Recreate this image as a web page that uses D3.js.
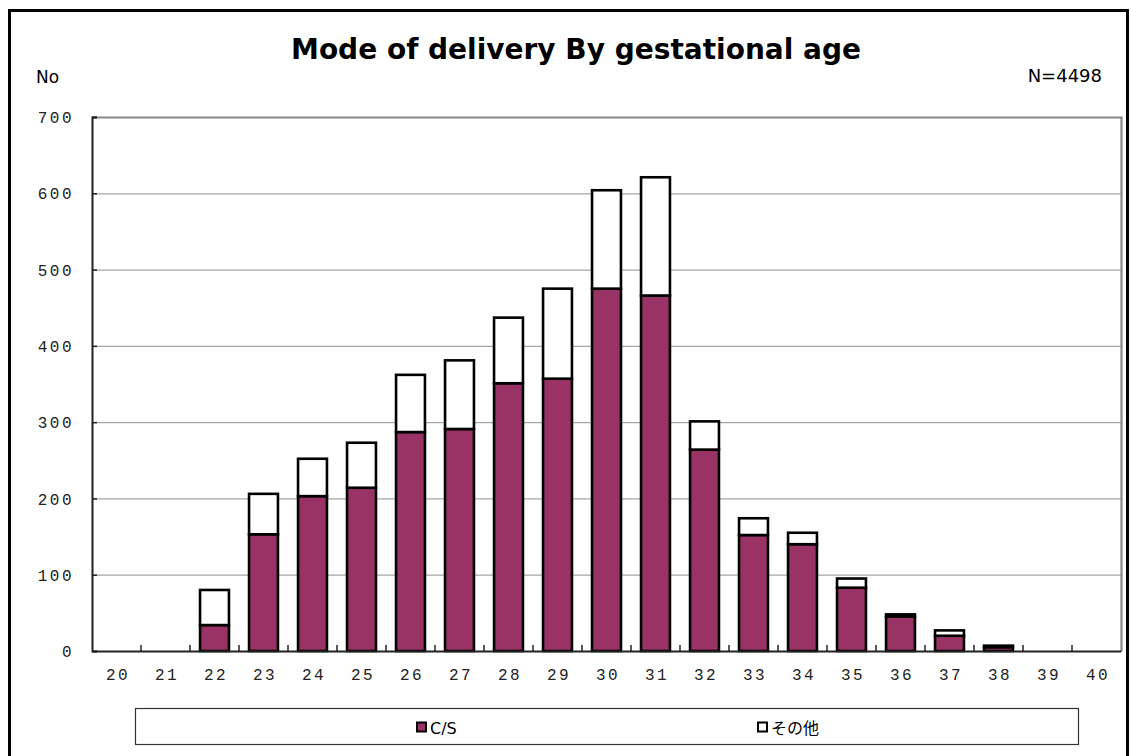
<!DOCTYPE html>
<html>
<head>
<meta charset="utf-8">
<script src="https://cdn.jsdelivr.net/npm/d3@7"></script>
<style>
  body { margin: 0; background: #fff; }
  .tick-label { font-family: "Liberation Mono", "DejaVu Sans Mono", monospace; font-size: 16px; letter-spacing: 2.5px; fill: #222; }
</style>
</head>
<body>
<div id="chart"></div>
<script>
// gestational age (weeks)
var weeks = ["20","21","22","23","24","25","26","27","28","29","30","31","32","33","34","35","36","37","38","39","40"];
// C/S count per week
var csValues = [0,0,34,153,203,214,287,291,351,357,475,466,264,152,140,83,45,20,5,0,0];
// その他 count per week
var otherValues = [0,0,46,53,49,59,75,90,86,118,129,155,37,22,15,12,3,7,2,0,0];
var seriesNames = ["C/S", "その他"];
var seriesColors = ["#993366", "#ffffff"];
var yTicks = [0,100,200,300,400,500,600,700];

var width = 1131, height = 756;
var svg = d3.select("#chart").append("svg")
    .attr("width", width)
    .attr("height", height);

// outer frame
svg.append("rect")
    .attr("x", 9.5).attr("y", 10.5)
    .attr("width", 1118).attr("height", 770)
    .attr("fill", "#fff").attr("stroke", "#000").attr("stroke-width", 3);

var plot = {left: 92, top: 117, right: 1121, bottom: 651};

var x = d3.scaleBand()
    .domain(weeks)
    .range([plot.left, plot.right])
    .paddingInner(0.41)
    .paddingOuter(0.205);

var y = d3.scaleLinear()
    .domain([0, 700])
    .range([plot.bottom, plot.top]);

// gridlines
svg.append("g").selectAll("line")
    .data(yTicks.filter(function(d) { return d > 0 && d < 700; }))
    .enter().append("line")
    .attr("x1", plot.left).attr("x2", plot.right)
    .attr("y1", function(d) { return y(d) + 0.5; })
    .attr("y2", function(d) { return y(d) + 0.5; })
    .attr("stroke", "#a6a6a6").attr("stroke-width", 1.2);

// top and right border of the plot
svg.append("path")
    .attr("d", "M" + plot.left + "," + (plot.top + 0.5) + "H" + (plot.right + 0.5) + "V" + plot.bottom)
    .attr("fill", "none").attr("stroke", "#888").attr("stroke-width", 2.2);

// stacked data
var table = weeks.map(function(w, i) { return {week: w, cs: csValues[i], other: otherValues[i]}; });
var stack = d3.stack().keys(["cs", "other"]);
var layers = stack(table);

svg.append("g").selectAll("g")
    .data(layers)
    .enter().append("g")
    .attr("fill", function(d, i) { return seriesColors[i]; })
    .selectAll("rect")
    .data(function(d) { return d.filter(function(p) { return p[1] - p[0] > 0; }); })
    .enter().append("rect")
    .attr("x", function(d) { return x(d.data.week); })
    .attr("y", function(d) { return y(d[1]); })
    .attr("width", x.bandwidth())
    .attr("height", function(d) { return y(d[0]) - y(d[1]); })
    .attr("stroke", "#000")
    .attr("stroke-width", 2.6);

// y axis
var yAxis = d3.axisLeft(y).tickValues(yTicks).tickSize(-5).tickPadding(18).tickFormat(d3.format("d"));
var gy = svg.append("g")
    .attr("transform", "translate(" + plot.left + ",0)")
    .call(yAxis);
gy.select(".domain").attr("stroke", "#222").attr("stroke-width", 2);
gy.selectAll(".tick line").attr("stroke", "#222").attr("stroke-width", 1.5);
gy.selectAll(".tick text").attr("class", "tick-label").attr("dy", "0.35em").attr("fill", "#222").attr("font-family", null).attr("font-size", null);

// x axis
var xAxis = d3.axisBottom(x).tickSize(0).tickPadding(18);
var gx = svg.append("g")
    .attr("transform", "translate(0," + plot.bottom + ")")
    .call(xAxis);
gx.select(".domain").attr("stroke", "#222").attr("stroke-width", 2);
gx.selectAll(".tick text").attr("class", "tick-label").attr("fill", "#222").attr("font-family", null).attr("font-size", null).attr("dx", "0.1em");

// category boundary ticks
var step = x.step();
svg.append("g").selectAll("line")
    .data(d3.range(1, weeks.length))
    .enter().append("line")
    .attr("x1", function(i) { return plot.left + i * step; })
    .attr("x2", function(i) { return plot.left + i * step; })
    .attr("y1", plot.bottom).attr("y2", plot.bottom - 6)
    .attr("stroke", "#222").attr("stroke-width", 1.5);

// title and labels
svg.append("text")
    .attr("x", 576).attr("y", 59)
    .attr("text-anchor", "middle")
    .attr("font-family", "DejaVu Sans, Verdana, sans-serif")
    .attr("font-weight", "bold")
    .attr("font-size", "28px")
    .text("Mode of delivery By gestational age");

svg.append("text")
    .attr("x", 36).attr("y", 83)
    .attr("font-family", "DejaVu Sans, sans-serif")
    .attr("font-size", "17px")
    .text("No");

svg.append("text")
    .attr("x", 1102).attr("y", 82)
    .attr("text-anchor", "end")
    .attr("font-family", "DejaVu Sans, sans-serif")
    .attr("font-size", "18px")
    .text("N=4498");

// legend
var legend = svg.append("g");
legend.append("rect")
    .attr("x", 135.5).attr("y", 708.5)
    .attr("width", 943).attr("height", 36)
    .attr("fill", "#fff").attr("stroke", "#333").attr("stroke-width", 1.2);

var legendX = [417, 758];
var items = legend.selectAll("g.item")
    .data(seriesNames)
    .enter().append("g")
    .attr("class", "item")
    .attr("transform", function(d, i) { return "translate(" + legendX[i] + ",0)"; });
items.append("rect")
    .attr("x", 0).attr("y", 722.5)
    .attr("width", 9).attr("height", 9)
    .attr("fill", function(d, i) { return seriesColors[i]; })
    .attr("stroke", "#000").attr("stroke-width", 2);
items.append("text")
    .attr("x", 13).attr("y", 734)
    .attr("font-family", "DejaVu Sans, 'Noto Sans CJK JP', sans-serif")
    .attr("font-size", "16px")
    .text(function(d) { return d; });
</script>
</body>
</html>
